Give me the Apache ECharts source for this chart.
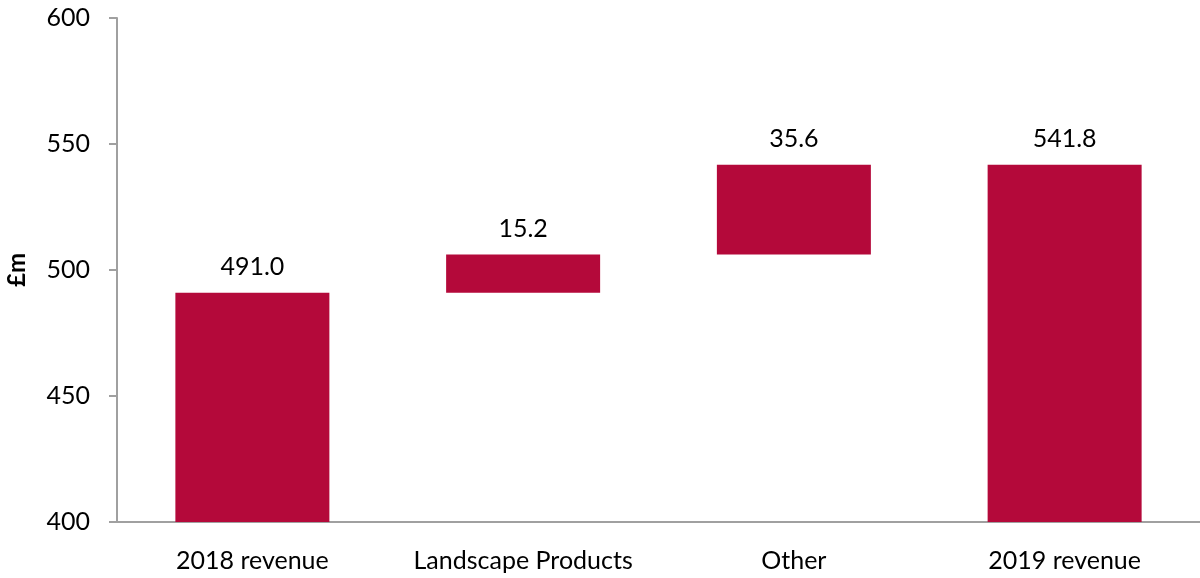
<!DOCTYPE html>
<html>
<head>
<meta charset="utf-8">
<script src="https://cdn.jsdelivr.net/npm/echarts@6/dist/echarts.min.js"></script>
<style>
  html, body { margin: 0; padding: 0; background: #fff; }
  #chart { width: 1200px; height: 578px; }
</style>
</head>
<body>
<div id="chart"></div>
<script>
// Revenue bridge, 2018 to 2019 (£m)
const categories = ['2018 revenue', 'Landscape Products', 'Other', '2019 revenue'];
const changes = [491.0, 15.2, 35.6, 541.8];
const isTotal = [true, false, false, true];
const yTicks = { min: 400, max: 600, interval: 50 };

// Floating base for each step: totals start at the axis minimum,
// movements start where the previous running total ended.
const bases = [];
const heights = [];
let running = 0;
changes.forEach((v, i) => {
  if (isTotal[i]) {
    bases.push(yTicks.min);
    heights.push(v - yTicks.min);
    running = v;
  } else {
    bases.push(running);
    heights.push(v);
    running += v;
  }
});

const font = 'Lato, "Open Sans", sans-serif';
const chart = echarts.init(document.getElementById('chart'));
chart.setOption({
  animation: false,
  grid: { left: 117, right: 0, top: 18, bottom: 56, containLabel: false, outerBoundsMode: 'none' },
  xAxis: {
    type: 'category',
    data: categories,
    axisLine: { lineStyle: { color: '#a0a0a0', width: 2 } },
    axisTick: { show: false },
    axisLabel: { color: '#000', fontSize: 25, fontFamily: font, margin: 26, interval: 0, hideOverlap: false }
  },
  yAxis: {
    type: 'value',
    min: yTicks.min,
    max: yTicks.max,
    interval: yTicks.interval,
    name: '£m',
    nameLocation: 'middle',
    nameGap: 88,
    nameRotate: 90,
    nameTextStyle: { color: '#000', fontSize: 24, fontWeight: 'bold', fontFamily: font },
    axisLine: { show: true, lineStyle: { color: '#a0a0a0', width: 2 } },
    axisTick: { show: true, length: 8, lineStyle: { color: '#a0a0a0', width: 2 } },
    splitLine: { show: false },
    axisLabel: { color: '#000', fontSize: 25, fontFamily: font, margin: 27 }
  },
  series: [
    {
      type: 'bar',
      stack: 'bridge',
      data: bases,
      barWidth: 154,
      itemStyle: { color: 'transparent' },
      emphasis: { disabled: true },
      silent: true
    },
    {
      type: 'bar',
      stack: 'bridge',
      data: heights,
      barWidth: 154,
      itemStyle: { color: '#B4093A' },
      label: {
        show: true,
        position: 'top',
        distance: 13,
        color: '#000',
        fontSize: 25,
        fontFamily: font,
        formatter: p => changes[p.dataIndex].toFixed(1)
      }
    }
  ]
});
</script>
</body>
</html>
